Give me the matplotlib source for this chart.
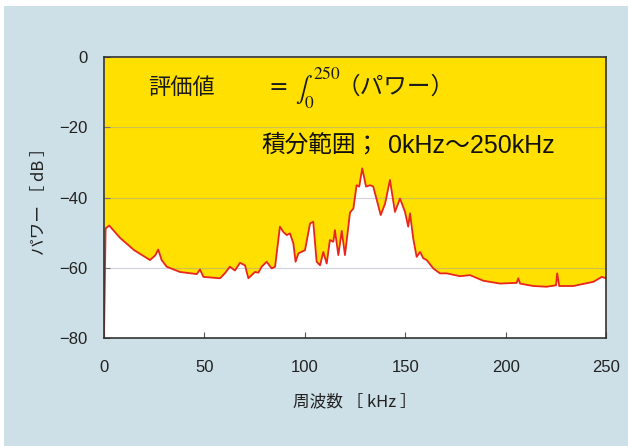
import matplotlib
matplotlib.use("Agg")
import matplotlib.pyplot as plt
from matplotlib.patches import Rectangle

plt.rcParams['font.family'] = ['Liberation Sans', 'Noto Sans CJK JP', 'DejaVu Sans']
plt.rcParams['mathtext.fontset'] = 'stix'

# スペクトル（周波数 kHz, パワー dB）
freq_khz = [0, 0.8, 2.6, 8, 15, 22.9, 25.5, 27, 28.7, 31.2, 37.8, 46.2, 47.8, 49.5,
            57.8, 60.3, 62.7, 65.2, 67.7, 70.2, 71.9, 73.5, 75.2, 76.9, 78.5, 81,
            83.5, 85.2, 87.6, 89.3, 91, 92.6, 94.3, 95.4, 96.8, 100.1, 102.6, 104.2,
            105.9, 107.6, 109.2, 110.9, 112.5, 114.2, 115, 116.7, 118.4, 120, 122.5,
            124.2, 125.8, 127.1, 128.6, 130.5, 132.5, 134.1, 137.8, 140, 142.4,
            144.9, 147.4, 149.9, 151.5, 152.4, 154, 155.7, 157.4, 159, 160.7, 164,
            167.3, 170.7, 177.3, 182.3, 188.9, 197.2, 205.5, 206.3, 207.2, 213.8,
            220.4, 225.1, 225.7, 226.7, 233.7, 239.5, 243.7, 247.9, 250]
power_db = [-80, -48.8, -48.0, -51.5, -55.0, -57.8, -56.5, -54.8, -57.8, -59.7, -61.2,
            -61.8, -60.5, -62.6, -63.0, -61.5, -59.7, -60.8, -58.6, -59.3, -63.0,
            -62.1, -61.2, -61.4, -59.7, -58.3, -60.2, -59.7, -48.3, -49.8, -50.7,
            -50.2, -53.1, -58.3, -55.9, -55.0, -47.4, -46.9, -58.3, -59.3, -55.5,
            -58.8, -52.1, -52.6, -49.3, -56.4, -49.5, -56.4, -44.3, -43.1, -36.5,
            -36.9, -31.7, -36.9, -36.5, -36.9, -45.0, -41.7, -35.0, -44.1, -40.3,
            -44.1, -48.3, -44.5, -51.7, -56.9, -55.5, -57.3, -57.8, -60.2, -61.6,
            -61.6, -62.4, -62.1, -63.7, -64.5, -64.3, -63.0, -64.5, -65.2, -65.4,
            -65.0, -61.6, -65.2, -65.2, -64.5, -64.0, -62.6, -63.0]

xticks = [0, 50, 100, 150, 200, 250]
yticks = [0, -20, -40, -60, -80]

fig = plt.figure(figsize=(6.28, 4.46), dpi=100, facecolor='white')
# 背景の水色（上と左に細い白い縁を残す）
fig.patches.append(Rectangle((4 / 628, 0), 1, 440 / 446, transform=fig.transFigure,
                             facecolor='#cddfe7', edgecolor='none', zorder=-10))

ax = fig.add_axes([104 / 628, 108 / 446, 502 / 628, 281 / 446])
ax.set_zorder(5)
ax.set_facecolor('white')

# 曲線より上を黄色で塗る
ax.fill_between(freq_khz, power_db, 0, color='#ffe000', lw=0, zorder=1)
ax.plot(freq_khz, power_db, color='#e8261e', lw=1.3, zorder=3)

for y in yticks[1:-1]:
    ax.axhline(y, color='#9a9ab8', lw=0.8, alpha=0.45, zorder=2)

ax.set_xlim(0, 250)
ax.set_ylim(-80, 0)
ax.set_xticks(xticks)
ax.set_yticks(yticks)
ax.set_yticklabels([str(v).replace('-', '\u2212') for v in yticks])
ax.tick_params(direction='in', length=4, width=0.8, color='#555555',
               labelsize=12, labelcolor='#222222')
ax.tick_params(axis='x', pad=16)
ax.tick_params(axis='y', pad=12)
for s in ax.spines.values():
    s.set_color('#333333')
    s.set_linewidth(1.2)
    s.set_zorder(4)

cjk = ['Noto Sans CJK JP', 'DejaVu Sans']
mixed = ['Liberation Sans', 'Noto Sans CJK JP', 'DejaVu Sans']
ax.set_xlabel('周波数 ［ kHz ］', fontsize=12, color='#222222', labelpad=13, family=cjk)
ax.set_ylabel('パワー ［ dB ］', fontsize=12, color='#222222', labelpad=8, family=cjk)

# 評価値の式
ax.text(22, -8.6, '評価値', fontsize=16, family=cjk, va='center', color='#1a1a1a')
ax.text(82, -8.6, '=', fontsize=17, family='serif', va='center', color='#1a1a1a')
ax.text(95, -8.8, r'$\int_{0}^{250}$', fontsize=18, va='center', color='#1a1a1a')
ax.text(116, -8.6, '（パワー）', fontsize=17, family=cjk, va='center', color='#1a1a1a')

# 積分範囲
ax.text(78.5, -25.2, '積分範囲；', fontsize=17, family=cjk, va='center', color='#111111')
ax.text(141.5, -25.2, '0kHz～250kHz', fontsize=18, family=mixed,
        va='center', color='#111111')

fig.savefig('out.png', dpi=100, facecolor=fig.get_facecolor())
